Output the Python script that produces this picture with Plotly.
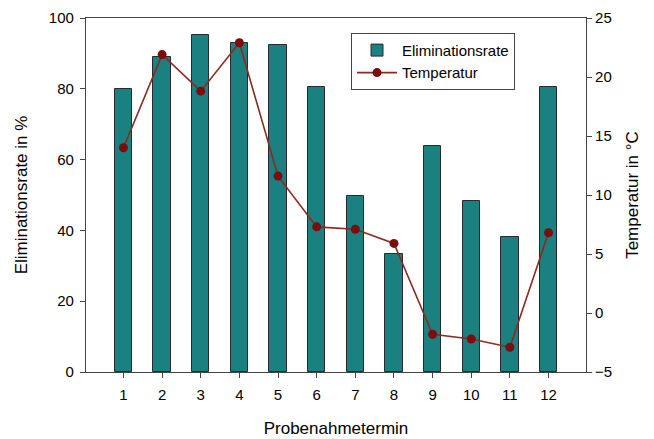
import plotly.graph_objects as go

# Probenahmetermine 1..12
termine = list(range(1, 13))
elimination = [80.0, 89.1, 95.2, 92.9, 92.4, 80.4, 49.8, 33.2, 63.8, 48.4, 38.2, 80.5]
temperatur = [14.0, 21.9, 18.8, 22.9, 11.6, 7.3, 7.1, 5.9, -1.8, -2.2, -2.9, 6.8]

font_family = "Liberation Sans, Arial, sans-serif"

fig = go.Figure()

fig.add_trace(go.Bar(
    x=termine, y=elimination, name="Eliminationsrate",
    width=0.45,
    marker=dict(color="#1a8080", line=dict(color="#2a2a2a", width=1)),
))

fig.add_trace(go.Scatter(
    x=termine, y=temperatur, name="Temperatur", yaxis="y2",
    mode="lines+markers",
    line=dict(color="#8b2a1e", width=1.6),
    marker=dict(color="#7a0d0d", size=9),
))

axis_common = dict(
    showline=True, linecolor="#444444", linewidth=1.2,
    ticks="outside", ticklen=5, tickcolor="#444444",
    showgrid=False, zeroline=False, automargin=False,
    tickfont=dict(size=15, color="black", family=font_family),
)

# page body adds an 8px offset, so the figure is a bit smaller than the window
fig.update_layout(
    width=646, height=431,
    margin=dict(l=78, r=68, t=10, b=67),
    plot_bgcolor="white", paper_bgcolor="white",
    font=dict(family=font_family, color="black"),
    bargap=0,
    xaxis=dict(
        range=[0.03, 12.97], tickmode="array", tickvals=termine,
        mirror=True, ticklabelstandoff=4,
        title=dict(text="Probenahmetermin", font=dict(size=17), standoff=20),
        **axis_common,
    ),
    yaxis=dict(
        range=[0, 100], dtick=20, ticklabelstandoff=3,
        title=dict(text="Eliminationsrate in %", font=dict(size=17), standoff=16),
        **axis_common,
    ),
    yaxis2=dict(
        range=[-5, 25], dtick=5, overlaying="y", side="right",
        title=dict(text="Temperatur in °C", font=dict(size=17), standoff=14),
        **axis_common,
    ),
    legend=dict(
        x=0.53, y=0.958, xanchor="left", yanchor="top",
        bordercolor="#444444", borderwidth=1, bgcolor="white",
        font=dict(size=15, color="black"),
        itemwidth=40, tracegroupgap=0,
    ),
    showlegend=True,
)

fig.write_html("out.html")
